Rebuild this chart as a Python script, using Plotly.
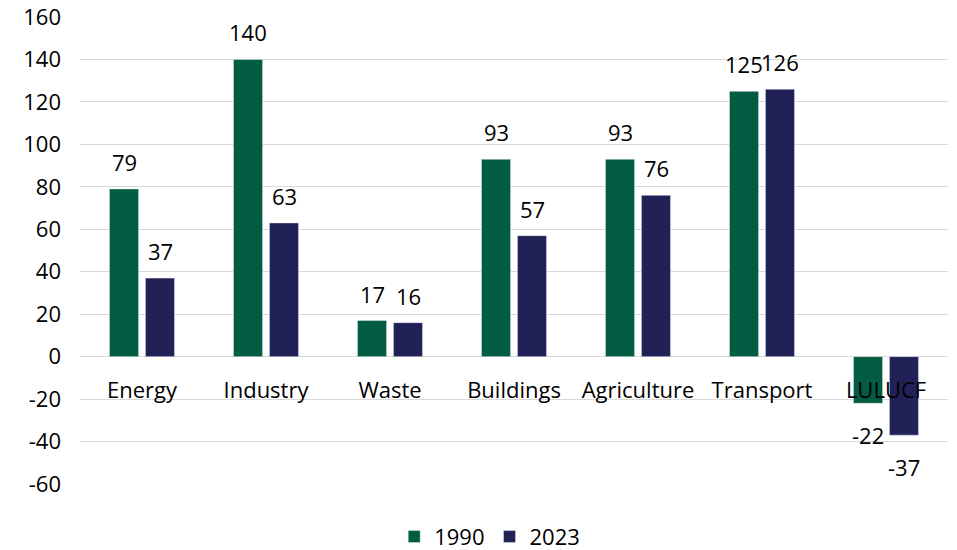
import plotly.graph_objects as go

categories = ["Energy", "Industry", "Waste", "Buildings", "Agriculture", "Transport", "LULUCF"]
values_1990 = [79, 140, 17, 93, 93, 125, -22]
values_2023 = [37, 63, 16, 57, 76, 126, -37]
series_names = ["1990", "2023"]
colors = ["#025C42", "#222157"]
y_ticks = list(range(-60, 161, 20))

FONT = "Open Sans"
FS = 22

fig = go.Figure()
for name, vals, col in zip(series_names, [values_1990, values_2023], colors):
    fig.add_trace(go.Bar(x=categories, y=vals, name=name, marker_color=col))

# data labels (Excel-style, a bit away from bar ends)
for vals, xs in [(values_1990, -18), (values_2023, 18)]:
    for c, v in zip(categories, vals):
        fig.add_annotation(x=c, y=v, xref="x", yref="y", text=str(v), showarrow=False,
                           xshift=xs, yshift=27 if v >= 0 else -32, yanchor="middle",
                           font=dict(size=FS, color="black", family=FONT))

ymin, ymax = -60, 160
fig.update_layout(
    width=957, height=550,
    margin=dict(l=80, r=9, t=17, b=66, autoexpand=False),
    paper_bgcolor="white", plot_bgcolor="white",
    barmode="group", bargap=0.42, bargroupgap=0.19,
    font=dict(family=FONT, size=FS, color="black"),
    showlegend=True,
    legend=dict(orientation="h", x=0.472, xanchor="center", y=-0.113, yanchor="middle",
                font=dict(size=FS), itemwidth=30, traceorder="normal"),
    xaxis=dict(anchor="free", position=(0 - ymin) / (ymax - ymin), showline=False,
               showgrid=False, ticks="outside", ticklen=14, tickcolor="rgba(0,0,0,0)",
               tickfont=dict(size=FS), range=[-0.5, 6.5], automargin=False),
    yaxis=dict(range=[ymin, ymax], tickvals=y_ticks, ticktext=[str(t) for t in y_ticks],
               showgrid=True, gridcolor="#d9d9d9",
               gridwidth=1.3, zeroline=True, zerolinecolor="#d9d9d9", zerolinewidth=1.3,
               showline=False, ticks="", tickfont=dict(size=FS), ticklabelstandoff=18,
               automargin=False),
)
fig.write_html("out.html", config={"displayModeBar": False},
               post_script="document.body.style.margin='0';document.body.style.overflow='hidden';")
